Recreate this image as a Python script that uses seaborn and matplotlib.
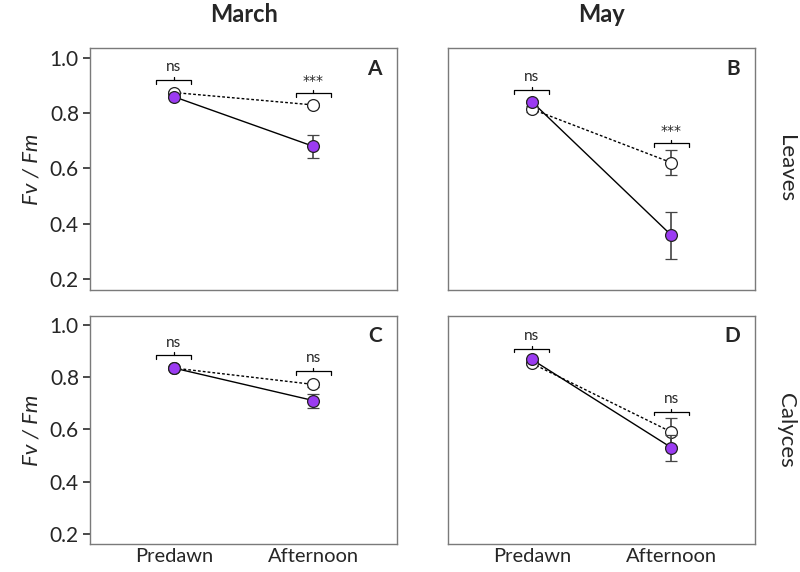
import pandas as pd
import seaborn as sns
import matplotlib.pyplot as plt

# time points
times = ["Predawn", "Afternoon"]

# Fv/Fm means and errors per panel (open = dotted, filled = solid)
open_a = [0.875, 0.830]
open_a_err = [0.006, 0.008]
fill_a = [0.860, 0.680]
fill_a_err = [0.006, 0.043]

open_b = [0.815, 0.621]
open_b_err = [0.010, 0.045]
fill_b = [0.842, 0.358]
fill_b_err = [0.006, 0.086]

open_c = [0.836, 0.773]
open_c_err = [0.005, 0.008]
fill_c = [0.836, 0.711]
fill_c_err = [0.005, 0.027]

open_d = [0.854, 0.590]
open_d_err = [0.005, 0.055]
fill_d = [0.869, 0.530]
fill_d_err = [0.005, 0.050]

# significance labels and bracket heights
sig_a = ["ns", "***"]
sig_a_y = [0.920, 0.873]
sig_b = ["ns", "***"]
sig_b_y = [0.884, 0.693]
sig_c = ["ns", "ns"]
sig_c_y = [0.885, 0.824]
sig_d = ["ns", "ns"]
sig_d_y = [0.910, 0.668]

letters = ["A", "B", "C", "D"]
months = ["March", "May"]
organs = ["Leaves", "Calyces"]

purple = "#9B3BF2"
frame = "#7a7a7a"

sns.set_theme(style="white")
plt.rcParams["font.family"] = ["Lato", "DejaVu Sans"]

fig = plt.figure(figsize=(8, 5.72), dpi=100)
boxes = [
    [0.1125, 0.493, 0.384, 0.423],
    [0.560, 0.493, 0.384, 0.423],
    [0.1125, 0.049, 0.384, 0.3986],
    [0.560, 0.049, 0.384, 0.3986],
]
panels = [
    (open_a, open_a_err, fill_a, fill_a_err, sig_a, sig_a_y),
    (open_b, open_b_err, fill_b, fill_b_err, sig_b, sig_b_y),
    (open_c, open_c_err, fill_c, fill_c_err, sig_c, sig_c_y),
    (open_d, open_d_err, fill_d, fill_d_err, sig_d, sig_d_y),
]

for i, (box, (o, oe, f, fe, sig, sig_y)) in enumerate(zip(boxes, panels)):
    ax = fig.add_axes(box)
    df = pd.DataFrame({
        "x": [0, 1, 0, 1],
        "y": o + f,
        "err": oe + fe,
        "group": ["open"] * 2 + ["filled"] * 2,
    })
    sns.lineplot(data=df, x="x", y="y", style="group",
                 dashes={"open": (2, 1.5), "filled": ""},
                 style_order=["open", "filled"], color="black", lw=1,
                 legend=False, ax=ax, zorder=2)
    for g, fc, z in [("open", "white", 3), ("filled", purple, 4)]:
        sub = df[df["group"] == g]
        ax.errorbar(sub["x"], sub["y"], yerr=sub["err"], fmt="o", ms=8.5,
                    mfc=fc, mec="#222222", mew=0.9, ecolor="#444444",
                    elinewidth=1.2, capsize=4, capthick=1.2, zorder=z)

    # brackets with significance labels
    w, d = 0.125, 0.014
    for xc, yb, lab in zip([0, 1], sig_y, sig):
        ax.plot([xc - w, xc - w, xc + w, xc + w], [yb - d, yb, yb, yb - d],
                color="black", lw=0.9)
        ax.plot([xc, xc], [yb, yb + d * 0.8], color="black", lw=0.9)
        if lab == "ns":
            ax.text(xc, yb + 0.022, lab, ha="center", va="bottom",
                    fontsize=11)
        else:
            ax.text(xc, yb + 0.018, lab, ha="center", va="bottom",
                    fontsize=10, family="DejaVu Sans")

    ax.set_xlim(-0.6, 1.6)
    ax.set_ylim(0.16, 1.036)
    ax.set_yticks([0.2, 0.4, 0.6, 0.8, 1.0])
    ax.set_xticks([0, 1])
    ax.set_xlabel("")
    ax.set_ylabel("")
    for s in ax.spines.values():
        s.set_color(frame)
        s.set_linewidth(1.0)
    ax.tick_params(axis="x", length=0, labelsize=14.5, pad=3)
    if i >= 2:
        ax.set_xticklabels(times)
    else:
        ax.set_xticklabels([])
    if i % 2 == 0:
        ax.tick_params(axis="y", left=True, length=5, color="#333333",
                       labelsize=15, pad=3)
        ax.set_yticklabels(["0.2", "0.4", "0.6", "0.8", "1.0"])
        ax.set_ylabel("Fv / Fm", fontsize=16, style="italic", labelpad=6)
    else:
        ax.set_yticklabels([])
        ax.tick_params(axis="y", left=False)
    ax.text(0.95, 0.955, letters[i], transform=ax.transAxes, ha="right",
            va="top", fontsize=15, fontweight="bold")

for k, m in enumerate(months):
    fig.text(boxes[k][0] + boxes[k][2] / 2, 0.975, m, ha="center",
             va="center", fontsize=17, fontweight="bold")
for k, o in enumerate(organs):
    b = boxes[2 * k + 1]
    fig.text(0.982, b[1] + b[3] / 2, o, ha="center", va="center",
             rotation=-90, fontsize=16)

fig.savefig("out.png", dpi=100)
